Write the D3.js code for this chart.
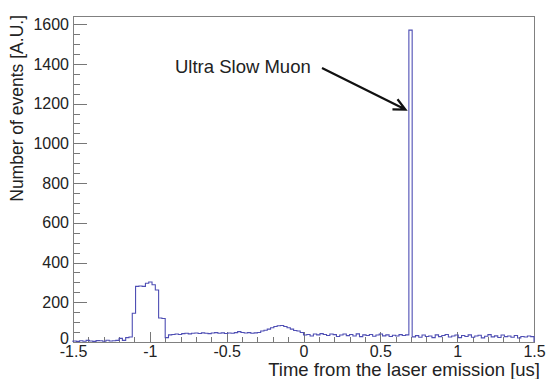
<!DOCTYPE html>
<html>
<head>
<style>
body{ margin:0; background:#fff; }
text{ font-family:"Liberation Sans", Arial, sans-serif; fill:#222; }
.axis line{ stroke:#777; shape-rendering:crispEdges; }
.axis path{ display:none; }
</style>
<script src="https://cdn.jsdelivr.net/npm/d3@7"></script>
</head>
<body>
<script>
// histogram binning (ROOT style, uniform bins)
var binLo = -1.5, binHi = 1.5, nBins = 140;
var counts = [
  5, 3, 6, 4, 8, 5, 3, 7, 6, 4, 9, 5, 6, 8, 18, 8, 22, 25,
  145, 280, 282, 280, 296, 302, 288, 262, 121, 118, 22,
  36, 38, 40, 38, 42, 44, 41, 44, 45, 43, 46, 44, 42, 45, 47, 44, 46, 43, 45, 44, 47,
  52, 48, 45, 47, 44, 46, 48,
  55, 59, 65, 72, 78, 82, 83, 78, 72, 65, 58, 55, 48,
  35, 38, 30, 40, 36, 42, 38, 33, 40, 37, 28, 35, 40, 32, 38, 30,
  41, 27, 36, 33, 38, 29, 35, 40, 31, 36, 28, 34, 30, 37, 33, 36,
  1570,
  26, 32, 24, 35, 28, 30, 22, 36, 27, 33, 38, 25, 30, 35, 22, 33, 28, 36, 24,
  30, 34, 21, 29, 37, 26, 31, 23, 35, 27, 30, 24, 33, 20, 28, 25, 30, 27
];
var yMax = 1641;
var xTicks = [-1.5, -1, -0.5, 0, 0.5, 1, 1.5];
var xTickLabels = ["-1.5", "-1", "-0.5", "0", "0.5", "1", "1.5"];
var yTicks = [0, 200, 400, 600, 800, 1000, 1200, 1400, 1600];
var yTickLabels = ["0", "200", "400", "600", "800", "1000", "1200", "1400", "1600"];
var xTitle = "Time from the laser emission [us]";
var yTitle = "Number of events [A.U.]";
var note = "Ultra Slow Muon";
var notePeak = [0.696, 1170]; // where the arrow points

const width = 547, height = 379,
  margin = {top: 16, right: 13, bottom: 37, left: 73};
const x = d3.scaleLinear().domain([binLo, binHi]).range([margin.left, width - margin.right]);
const y = d3.scaleLinear().domain([0, yMax]).range([height - margin.bottom, margin.top]);

const svg = d3.select("body").append("svg").attr("width", width).attr("height", height);

// minor ticks
const bw = (binHi - binLo) / nBins;
svg.append("g").attr("class", "axis")
  .attr("transform", `translate(${margin.left},0)`)
  .call(d3.axisLeft(y).tickValues(d3.range(0, yMax, 50)).tickSize(-7).tickFormat(""));
svg.append("g").attr("class", "axis")
  .attr("transform", `translate(0,${height - margin.bottom})`)
  .call(d3.axisBottom(x).tickValues(d3.range(-15, 16).map(d => d / 10)).tickSize(-5).tickFormat(""));

// major ticks + labels
const yAxisG = svg.append("g").attr("class", "axis")
  .attr("transform", `translate(${margin.left},0)`)
  .call(d3.axisLeft(y).tickValues(yTicks).tickSize(-14).tickPadding(4)
    .tickFormat((d, i) => yTickLabels[i]));
yAxisG.selectAll("text").attr("font-size", 16).style("fill", "#222")
  .filter(d => d === 0).attr("dy", "0.1em");

const xAxisG = svg.append("g").attr("class", "axis")
  .attr("transform", `translate(0,${height - margin.bottom})`)
  .call(d3.axisBottom(x).tickValues(xTicks).tickSize(-10).tickPadding(4)
    .tickFormat((d, i) => xTickLabels[i]));
xAxisG.selectAll("text").attr("font-size", 16).style("fill", "#222");

// frame
svg.append("rect")
  .attr("x", margin.left + 0.5).attr("y", margin.top + 0.5)
  .attr("width", width - margin.left - margin.right)
  .attr("height", height - margin.top - margin.bottom)
  .attr("fill", "none").attr("stroke", "#808080");

// histogram outline
const pts = [[binLo, 0]];
counts.forEach(function(c, i) {
  pts.push([binLo + i * bw, c]);
  pts.push([binLo + (i + 1) * bw, c]);
});
pts.push([binHi, 0]);
svg.append("path")
  .datum(pts)
  .attr("d", d3.line().x(d => x(d[0])).y(d => y(d[1])))
  .attr("fill", "none").attr("stroke", "#4e4eb4").attr("stroke-width", 1.1);

// axis titles
svg.append("text")
  .attr("x", 540).attr("y", 376)
  .attr("text-anchor", "end").attr("font-size", 18.5)
  .text(xTitle);
svg.append("text")
  .attr("transform", "translate(23,15) rotate(-90)")
  .attr("text-anchor", "end").attr("font-size", 17.5)
  .text(yTitle);

// annotation
svg.append("text")
  .attr("x", 175).attr("y", 73).attr("font-size", 18.5)
  .text(note);
const ax0 = 322, ay0 = 68, ax1 = x(notePeak[0]) - 5, ay1 = y(notePeak[1]);
const ang = Math.atan2(ay1 - ay0, ax1 - ax0), hl = 13;
svg.append("path")
  .attr("d", `M${ax0},${ay0}L${ax1},${ay1}` +
    `M${ax1 - hl * Math.cos(ang - 0.45)},${ay1 - hl * Math.sin(ang - 0.45)}L${ax1},${ay1}` +
    `L${ax1 - hl * Math.cos(ang + 0.45)},${ay1 - hl * Math.sin(ang + 0.45)}`)
  .attr("fill", "none").attr("stroke", "#111").attr("stroke-width", 2.2);
</script>
</body>
</html>
